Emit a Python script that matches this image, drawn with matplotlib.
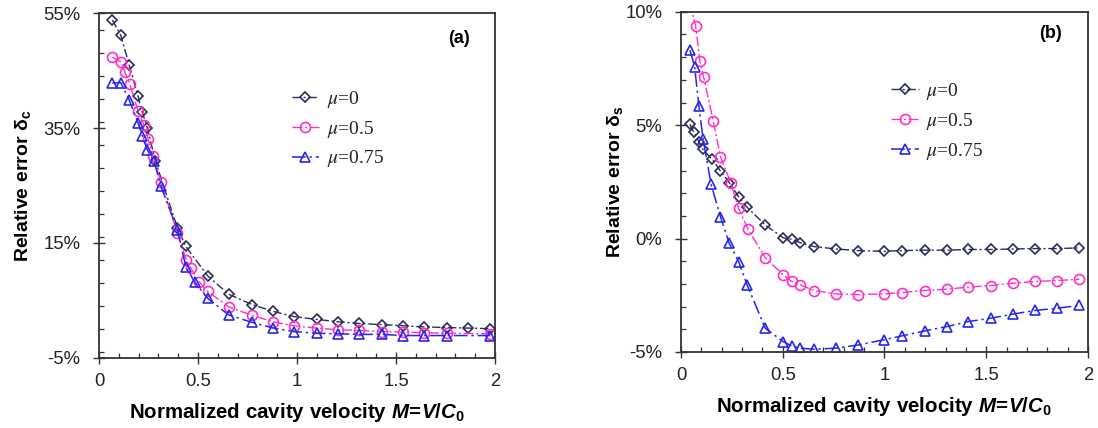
import matplotlib
matplotlib.use("Agg")
import matplotlib.pyplot as plt
from matplotlib.ticker import MultipleLocator, FixedLocator, FuncFormatter

plt.rcParams['font.family'] = ['Liberation Sans', 'DejaVu Sans']
plt.rcParams['mathtext.fontset'] = 'custom'
plt.rcParams['mathtext.it'] = 'Liberation Sans:italic:bold'
plt.rcParams['mathtext.rm'] = 'Liberation Sans:bold'
plt.rcParams['mathtext.bf'] = 'Liberation Sans:bold'

# ---------------- data: panel (a) ----------------
a_x_mu0 = [0.067, 0.11, 0.152, 0.197, 0.219, 0.244, 0.285, 0.396, 0.438, 0.548, 0.654, 0.772,
           0.88, 0.984, 1.099, 1.208, 1.313, 1.427, 1.537, 1.643, 1.756, 1.865, 1.975]
a_y_mu0 = [53.8, 51.1, 46.0, 40.5, 37.7, 35.0, 29.2, 17.6, 14.4, 9.3, 6.1, 4.3,
           3.1, 2.2, 1.7, 1.3, 1.0, 0.8, 0.6, 0.4, 0.3, 0.2, 0.1]
a_x_mu05 = [0.067, 0.11, 0.131, 0.155, 0.197, 0.226, 0.248, 0.273, 0.312, 0.396, 0.441, 0.463,
            0.505, 0.548, 0.654, 0.773, 0.88, 0.984, 1.099, 1.208, 1.313, 1.427, 1.537, 1.643,
            1.756, 1.975]
a_y_mu05 = [47.3, 46.5, 44.7, 42.7, 37.9, 35.6, 33.1, 30.1, 25.6, 16.7, 12.0, 10.7,
            8.3, 6.6, 3.9, 2.4, 1.3, 0.6, 0.2, -0.1, -0.2, -0.4, -0.5, -0.6,
            -0.7, -0.8]
a_x_mu075 = [0.067, 0.11, 0.152, 0.197, 0.219, 0.244, 0.278, 0.312, 0.396, 0.438, 0.483, 0.548,
             0.654, 0.772, 0.88, 0.984, 1.099, 1.208, 1.313, 1.427, 1.537, 1.643, 1.756, 1.975]
a_y_mu075 = [42.8, 42.9, 39.9, 35.9, 33.6, 31.2, 29.2, 24.9, 17.3, 10.9, 8.2, 5.4,
             2.5, 1.2, 0.2, -0.4, -0.7, -0.8, -0.9, -0.9, -1.1, -1.1, -1.1, -1.1]

# ---------------- data: panel (b) ----------------
b_x_mu0 = [0.044, 0.064, 0.088, 0.106, 0.153, 0.194, 0.237, 0.283, 0.325, 0.414, 0.502, 0.544,
           0.586, 0.653, 0.763, 0.872, 0.998, 1.086, 1.197, 1.306, 1.411, 1.523, 1.630, 1.739,
           1.848, 1.958]
b_y_mu0 = [5.04, 4.68, 4.27, 3.95, 3.49, 2.98, 2.47, 1.85, 1.38, 0.60, 0.04, -0.03,
           -0.18, -0.35, -0.46, -0.53, -0.56, -0.53, -0.51, -0.51, -0.48, -0.48, -0.46, -0.44,
           -0.44, -0.41]
b_x_mu05 = [0.044, 0.072, 0.093, 0.111, 0.158, 0.194, 0.244, 0.283, 0.330, 0.414, 0.502, 0.544,
            0.586, 0.653, 0.763, 0.872, 0.998, 1.086, 1.197, 1.306, 1.411, 1.523, 1.630, 1.739,
            1.848, 1.958]
b_y_mu05 = [10.4, 9.37, 7.83, 7.14, 5.20, 3.61, 2.47, 1.34, 0.41, -0.84, -1.60, -1.89,
            -2.04, -2.29, -2.44, -2.47, -2.44, -2.38, -2.29, -2.23, -2.14, -2.07, -1.97, -1.89,
            -1.85, -1.79]
b_x_mu075 = [0.044, 0.067, 0.088, 0.109, 0.148, 0.194, 0.237, 0.283, 0.325, 0.414, 0.502, 0.544,
             0.586, 0.653, 0.763, 0.872, 0.998, 1.086, 1.197, 1.306, 1.411, 1.523, 1.630, 1.739,
             1.848, 1.958]
b_y_mu075 = [8.31, 7.58, 5.84, 4.38, 2.39, 0.97, -0.21, -1.01, -2.04, -3.95, -4.54, -4.73,
             -4.83, -4.88, -4.83, -4.69, -4.46, -4.29, -4.07, -3.88, -3.66, -3.51, -3.33, -3.17,
             -3.07, -2.95]

legend_labels = [r'$\mu$=0', r'$\mu$=0.5', r'$\mu$=0.75']
x_ticks = [0, 0.5, 1, 1.5, 2]
x_tick_labels = ['0', '0.5', '1', '1.5', '2']
a_y_ticks = [-5, 15, 35, 55]
b_y_ticks = [-5, 0, 5, 10]

c_mu0 = '#262a66'
c_mu05 = '#ff2fc8'
c_mu075 = '#2626ee'

styles = [
    dict(color=c_mu0, marker='D', ms=5.0, ls=(0, (6, 2, 1.5, 2)), lw=1.0, mec='#2a2d55'),
    dict(color=c_mu05, marker='o', ms=7.2, ls=(0, (7, 2, 1.5, 2)), lw=1.0, mec=c_mu05),
    dict(color=c_mu075, marker='^', ms=7.2, ls=(0, (9, 2.5, 1.5, 2.5)), lw=1.1, mec=c_mu075),
]

fig = plt.figure(figsize=(10.98, 4.28), dpi=100)
ax_a = fig.add_axes([0.0902, 0.1636, 0.3607, 0.806])
ax_b = fig.add_axes([0.6202, 0.1776, 0.3707, 0.7948])

pct = FuncFormatter(lambda v, p: f'{v:.0f}%')


def style_axes(ax, yticks, yminor, ylim, ylabel, ylabelpad, tag, tagpos):
    ax.set_xlim(0, 2)
    ax.set_ylim(*ylim)
    ax.xaxis.set_major_locator(FixedLocator(x_ticks))
    ax.set_xticklabels(x_tick_labels)
    ax.xaxis.set_minor_locator(MultipleLocator(0.1))
    ax.yaxis.set_major_locator(FixedLocator(yticks))
    ax.yaxis.set_major_formatter(pct)
    ax.yaxis.set_minor_locator(MultipleLocator(yminor))
    ax.tick_params(which='both', top=False, right=False,
                   colors='#333333', labelcolor='#222222', labelsize=13.3)
    ax.tick_params(which='major', direction='inout', length=8, width=1.0)
    ax.tick_params(which='minor', direction='in', length=3.5, width=0.9)
    ax.tick_params(axis='x', which='major', pad=7)
    ax.tick_params(axis='y', which='major', pad=9.5)
    for s in ax.spines.values():
        s.set_color('#333333')
        s.set_linewidth(1.3)
    ax.set_xlabel(r'Normalized cavity velocity $M\!=\!V/C_0$', fontsize=14.8,
                  fontweight='bold', labelpad=8)
    ax.set_ylabel(ylabel, fontsize=14, fontweight='bold', labelpad=ylabelpad)
    ax.text(tagpos[0], tagpos[1], tag, transform=ax.transAxes, fontsize=13,
            fontweight='bold', ha='center', va='center')


for ax, data in [(ax_a, [(a_x_mu0, a_y_mu0), (a_x_mu05, a_y_mu05), (a_x_mu075, a_y_mu075)]),
                 (ax_b, [(b_x_mu0, b_y_mu0), (b_x_mu05, b_y_mu05), (b_x_mu075, b_y_mu075)])]:
    for (xs, ys), st, lab in zip(data, styles, legend_labels):
        ax.plot(xs, ys, label=lab, mfc='none', mew=1.2, **st)

style_axes(ax_a, a_y_ticks, 4, (-5, 55), 'Relative error δ$_\\mathrm{c}$', 7.5, '(a)', (0.91, 0.925))
style_axes(ax_b, b_y_ticks, 1, (-5, 10), 'Relative error δ$_\\mathrm{s}$', 0.5, '(b)', (0.907, 0.935))

for ax, loc in [(ax_a, (0.4424, 0.831)), (ax_b, (0.474, 0.848))]:
    leg = ax.legend(loc='upper left', bbox_to_anchor=loc, frameon=False,
                    prop={'family': 'Liberation Serif', 'size': 14},
                    handlelength=1.4, handletextpad=0.4, labelspacing=0.45)
    for t in leg.get_texts():
        t.set_math_fontfamily('stix')
        t.set_color('#222222')

fig.savefig('out.png', dpi=100)
